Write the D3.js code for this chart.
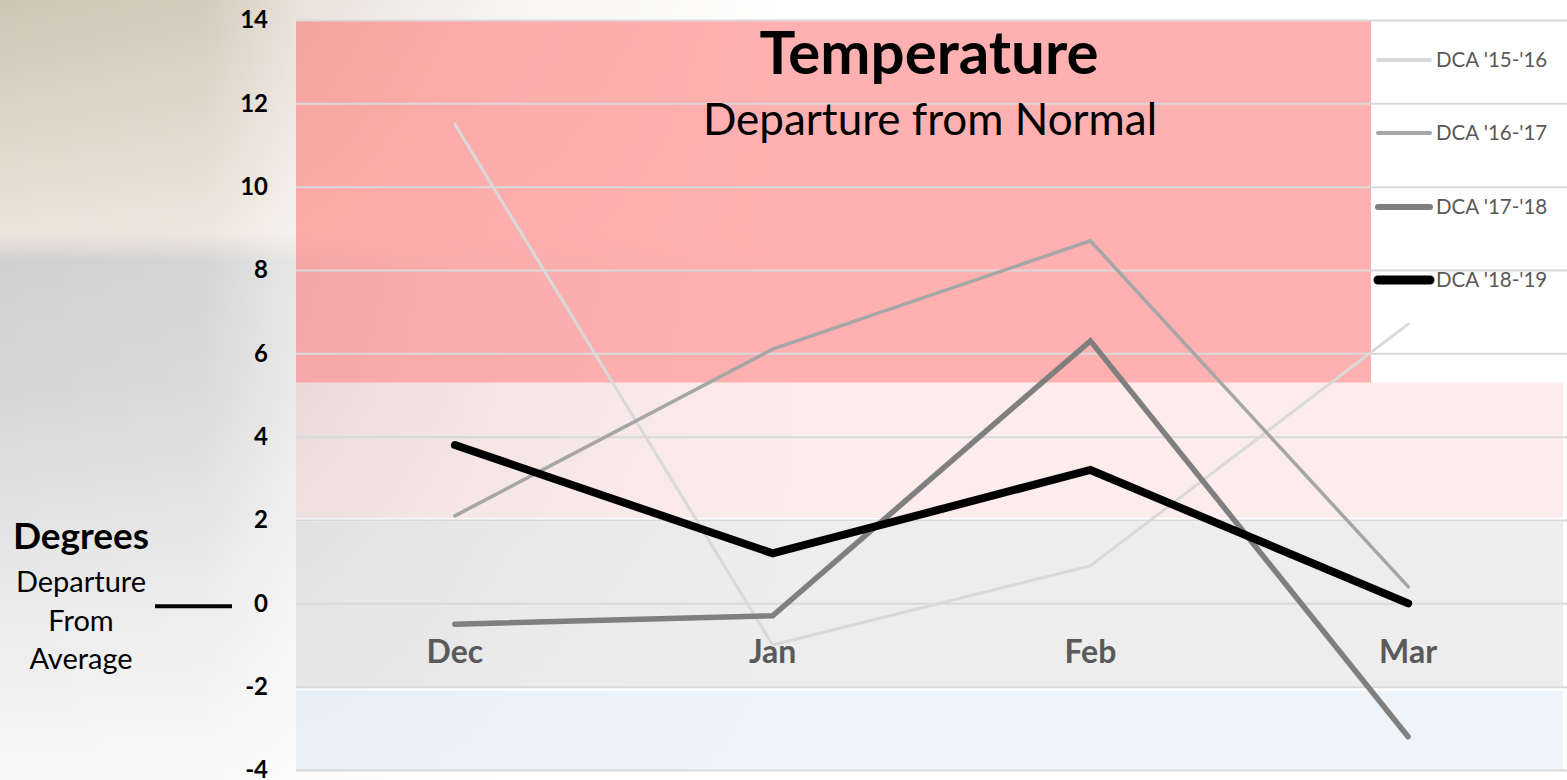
<!DOCTYPE html>
<html>
<head>
<meta charset="utf-8">
<script src="https://cdn.jsdelivr.net/npm/d3@7"></script>
<style>
  html, body { margin: 0; padding: 0; background: #fff; }
  svg { display: block; font-family: Lato, "Open Sans", sans-serif; }
</style>
</head>
<body>
<svg width="1567" height="780"></svg>
<script>
// Chart values
const months = ['Dec', 'Jan', 'Feb', 'Mar']
const seriesNames = ["DCA '15-'16", "DCA '16-'17", "DCA '17-'18", "DCA '18-'19"]
const dca1516 = [11.5, -1.0, 0.9, 6.7]
const dca1617 = [2.1, 6.1, 8.7, 0.4]
const dca1718 = [-0.5, -0.3, 6.3, -3.2]
const dca1819 = [3.8, 1.2, 3.2, 0.0]
const yTicks = [-4, -2, 0, 2, 4, 6, 8, 10, 12, 14]
// background bands (degrees): top, bottom
const bandTops = [14, 5.3, 1.95, -2.1]
const bandBottoms = [5.3, 2.05, -2.0, -4]

const svg = d3.select('svg')
const W = 1567
const H = 780
const plotLeft = 296
const plotRight = 1567
const plotTop = 20
const plotBottom = 770

const defs = svg.append('defs')

// photo-like backdrop fading to white on the right
const sky = defs.append('linearGradient').attr('id', 'sky')
  .attr('x1', 0).attr('y1', 0).attr('x2', 0).attr('y2', 1)
;[
  [0, '#cfc5b4'], [0.18, '#e0d7ca'], [0.3, '#ece4da'], [0.335, '#d0d0d0'],
  [0.5, '#d6d6d6'], [0.75, '#e9e9e9'], [1, '#f8f8f8'],
].forEach(([o, c]) => sky.append('stop').attr('offset', o).attr('stop-color', c))

const fade = defs.append('linearGradient').attr('id', 'fade')
  .attr('x1', 0).attr('y1', 0).attr('x2', 1).attr('y2', 0)
;[[0, 1], [0.13, 0.9], [0.19, 0.5], [0.32, 0.18], [0.52, 0]].forEach(([o, a]) =>
  fade.append('stop').attr('offset', o).attr('stop-color', '#fff').attr('stop-opacity', a))
defs.append('mask').attr('id', 'fadeMask')
  .append('rect').attr('width', W).attr('height', H).attr('fill', 'url(#fade)')

svg.append('rect').attr('width', W).attr('height', H).attr('fill', '#fff')
svg.append('rect').attr('width', W).attr('height', H)
  .attr('fill', 'url(#sky)').attr('mask', 'url(#fadeMask)')

const x = d3.scaleBand().domain(months).range([plotLeft, plotRight]).padding(0)
const xc = d => x(d) + x.bandwidth() / 2
const y = d3.scaleLinear().domain([-4, 14]).range([plotBottom, plotTop])

// bands
const bandFill = ['#ff7070', '#f07070', '#808080', '#5b9bd5']
const bandOpacity = [0.55, 0.13, 0.14, 0.11]
const bandRight = [1371, 1563, 1563, 1563]
svg.append('g').selectAll('rect')
  .data(bandTops)
  .join('rect')
  .attr('x', plotLeft)
  .attr('y', d => y(d))
  .attr('width', (d, i) => bandRight[i] - plotLeft)
  .attr('height', (d, i) => y(bandBottoms[i]) - y(d))
  .attr('fill', (d, i) => bandFill[i])
  .attr('fill-opacity', (d, i) => bandOpacity[i])

// gridlines
const grid = svg.append('g')
  .attr('transform', `translate(${plotLeft},0)`)
  .call(d3.axisLeft(y).tickValues(yTicks).tickSize(-(plotRight - plotLeft)).tickFormat(''))
grid.select('.domain').remove()
grid.selectAll('line').attr('stroke', '#d9d9d9').attr('stroke-width', 2)

// y tick labels
const yAxis = svg.append('g')
  .attr('transform', 'translate(268,0)')
  .call(d3.axisLeft(y).tickValues(yTicks).tickSize(0).tickPadding(0).tickFormat(d => String(d)))
yAxis.select('.domain').remove()
yAxis.selectAll('text')
  .attr('font-family', 'Lato, sans-serif')
  .attr('font-size', 24)
  .attr('font-weight', 700)
  .attr('fill', '#000')

// category labels
svg.append('g').selectAll('text')
  .data(months)
  .join('text')
  .attr('x', d => xc(d))
  .attr('y', 663)
  .attr('text-anchor', 'middle')
  .attr('font-size', 32)
  .attr('font-weight', 700)
  .attr('fill', '#595959')
  .text(d => d)

// series lines
const seriesValues = [dca1516, dca1617, dca1718, dca1819]
const seriesColor = ['#d9d9d9', '#a6a6a6', '#7f7f7f', '#000000']
const seriesWidth = [3, 3.5, 5.5, 8]
const line = d3.line()
  .x((d, i) => xc(months[i]))
  .y(d => y(d))

svg.append('g').selectAll('path')
  .data(seriesValues)
  .join('path')
  .attr('d', d => line(d))
  .attr('fill', 'none')
  .attr('stroke', (d, i) => seriesColor[i])
  .attr('stroke-width', (d, i) => seriesWidth[i])
  .attr('stroke-linejoin', 'miter')
  .attr('stroke-linecap', 'round')

// legend
const legendY = [60, 133, 207, 280]
const legendWidth = [4, 4, 6, 9]
const legend = svg.append('g').selectAll('g')
  .data(seriesNames)
  .join('g')
  .attr('transform', (d, i) => `translate(1378,${legendY[i]})`)
legend.append('line')
  .attr('x1', 0).attr('x2', 52)
  .attr('stroke', (d, i) => seriesColor[i])
  .attr('stroke-width', (d, i) => legendWidth[i])
  .attr('stroke-linecap', 'round')
legend.append('text')
  .attr('x', 58)
  .attr('dy', '0.35em')
  .attr('font-size', 20.5)
  .attr('fill', '#595959')
  .text(d => d)

// title
svg.append('text')
  .attr('x', 929).attr('y', 74)
  .attr('text-anchor', 'middle')
  .attr('font-size', 60)
  .attr('font-weight', 700)
  .text('Temperature')
svg.append('text')
  .attr('x', 930).attr('y', 135)
  .attr('text-anchor', 'middle')
  .attr('font-size', 44)
  .text('Departure from Normal')

// left axis title
svg.append('text')
  .attr('x', 81).attr('y', 549)
  .attr('text-anchor', 'middle')
  .attr('font-size', 37)
  .attr('font-weight', 700)
  .text('Degrees')
svg.append('g').selectAll('text')
  .data(['Departure', 'From', 'Average'])
  .join('text')
  .attr('x', 81)
  .attr('y', (d, i) => 592 + i * 38.5)
  .attr('text-anchor', 'middle')
  .attr('font-size', 29)
  .text(d => d)
svg.append('line')
  .attr('x1', 155).attr('x2', 232)
  .attr('y1', y(0) + 3).attr('y2', y(0) + 3)
  .attr('stroke', '#000')
  .attr('stroke-width', 4)
</script>
</body>
</html>
